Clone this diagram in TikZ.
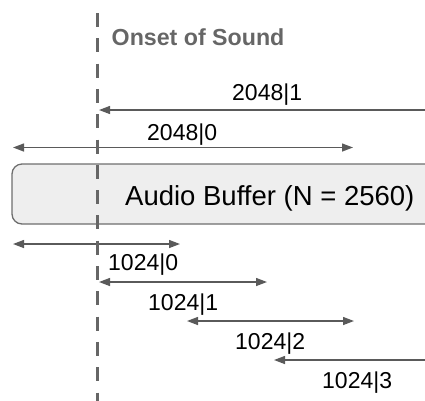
\documentclass[tikz,border=0pt]{standalone}
\usepackage{fontspec}
\setmainfont{Liberation Sans}
\usetikzlibrary{arrows.meta}
\definecolor{arrgray}{HTML}{5A5A5A}
\definecolor{dashgray}{HTML}{666666}
\definecolor{boxfill}{HTML}{EEEEEE}
\definecolor{boxline}{HTML}{6E6E6E}
\tikzset{
  lbl/.style={anchor=base west, inner sep=0pt, font=\fontsize{23}{23}\selectfont, text=black},
  onsetlbl/.style={anchor=base west, inner sep=0pt, font=\fontsize{23.2}{23.2}\selectfont\bfseries, text=dashgray},
  boxlbl/.style={anchor=base west, inner sep=0pt, font=\fontsize{27.5}{27.5}\selectfont, text=black},
  tip/.tip={Triangle[length=11pt,width=8pt]},
  conn/.style={draw=arrgray, line width=1.3pt},
  twoway/.style={conn, tip-tip},
  leftway/.style={conn, tip-},
  onsetline/.style={draw=dashgray, line width=3.8pt, dash pattern=on 14pt off 11.3pt},
  bufbox/.style={draw=boxline, fill=boxfill, line width=1.3pt, rounded corners=10pt},
}
\begin{document}
\begin{tikzpicture}[x=1pt, y=-1pt]
\useasboundingbox (0,0) rectangle (425,400);
% buffer box
\path[bufbox] (12,164) rectangle (440,224);
\node[boxlbl] (buf) at (125,205) {Audio Buffer (N = 2560)};
% endpoints
\coordinate (a1l) at (99,110);   \coordinate (a1r) at (426,110);
\coordinate (a0l) at (13,147.5); \coordinate (a0r) at (353,147.5);
\coordinate (b0l) at (13,244);   \coordinate (b0r) at (180,244);
\coordinate (b1l) at (99,282);   \coordinate (b1r) at (267,282);
\coordinate (b2l) at (187,321);  \coordinate (b2r) at (354,321);
\coordinate (b3l) at (274,360);  \coordinate (b3r) at (426,360);
% arrows
\draw[leftway] (a1l) -- (a1r);
\draw[twoway] (a0l) -- (a0r);
\draw[twoway] (b0l) -- (b0r);
\draw[twoway] (b1l) -- (b1r);
\draw[twoway] (b2l) -- (b2r);
\draw[leftway] (b3l) -- (b3r);
% labels
\node[lbl] (l21) at (232,100) {2048|1};
\node[lbl] (l20) at (147,140) {2048|0};
\node[lbl] (l10) at (108,270) {1024|0};
\node[lbl] (l11) at (148,310) {1024|1};
\node[lbl] (l12) at (235,349) {1024|2};
\node[lbl] (l13) at (322,388) {1024|3};
% onset
\coordinate (ontop) at (97.5,13);
\coordinate (onbot) at (97.5,402);
\draw[onsetline] (ontop) -- (onbot);
\node[onsetlbl] (onset) at (111.5,45) {Onset of Sound};
\end{tikzpicture}
\end{document}
